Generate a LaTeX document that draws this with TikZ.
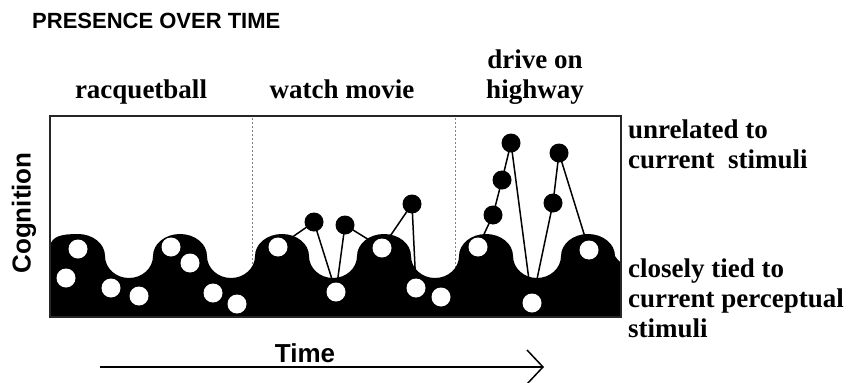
\documentclass[tikz,border=0pt]{standalone}
\usepackage{fontspec}
\setmainfont{Liberation Serif}
\setsansfont{Liberation Sans}
\begin{document}
\begin{tikzpicture}[x=1pt,y=-1pt,
  serlabel/.style={font=\fontsize{27}{30}\selectfont\bfseries, inner sep=0pt},
  sanlabel/.style={font=\sffamily\bfseries\fontsize{26}{30}\selectfont, inner sep=0pt},
  wdot/.style={circle, fill=white, minimum size=19pt, inner sep=0pt},
  bdot/.style={circle, fill=black, minimum size=19pt, inner sep=0pt},
  link/.style={line width=1.5pt, black},
  sep/.style={gray, line width=1pt, dash pattern=on 2pt off 2pt}]
\useasboundingbox (0,0) rectangle (852,383);

% title
\node[sanlabel, font=\sffamily\bfseries\fontsize{22}{26}\selectfont, anchor=base west] (title) at (32,28) {PRESENCE OVER TIME};

% activity headings
\node[serlabel, anchor=base] (act1) at (141,98) {racquetball};
\node[serlabel, anchor=base] (act2) at (342,98) {watch movie};
\node[serlabel, anchor=base] (act3a) at (535,68) {drive on};
\node[serlabel, anchor=base] (act3b) at (535,98) {highway};

% separators between activities
\draw[sep] (252,118) -- (252,300);
\draw[sep] (455,118) -- (455,300);

% perception band: humps and valleys
\fill[black] (50,317) -- (50,246)
  .. controls (52,236) and (62,234) .. (78,234)
  arc[start angle=270, end angle=360, x radius=27, y radius=22]
  arc[start angle=180, end angle=0, x radius=24, y radius=22]
  arc[start angle=180, end angle=360, x radius=27, y radius=22]
  arc[start angle=180, end angle=0, x radius=24, y radius=22]
  arc[start angle=180, end angle=360, x radius=27, y radius=22]
  arc[start angle=180, end angle=0, x radius=24, y radius=22]
  arc[start angle=180, end angle=360, x radius=27, y radius=22]
  arc[start angle=180, end angle=0, x radius=24, y radius=22]
  arc[start angle=180, end angle=360, x radius=27, y radius=22]
  arc[start angle=180, end angle=0, x radius=24, y radius=22]
  arc[start angle=180, end angle=360, x radius=27, y radius=22]
  .. controls (617,259) .. (621,263) -- (621,317) -- cycle;

% frame
\draw[line width=1.5pt, black!85] (50,116) rectangle (621,317);

% thoughts: white = perceptual, black = unrelated
\coordinate (pw1) at (78,249);   \coordinate (pw2) at (66,278);
\coordinate (pw3) at (111,288);  \coordinate (pw4) at (139,296);
\coordinate (pw5) at (171,247);  \coordinate (pw6) at (190,263);
\coordinate (pw7) at (213,293);  \coordinate (pw8) at (237,304);
\coordinate (pw9) at (278,247);  \coordinate (pw10) at (336,292);
\coordinate (pw11) at (382,248); \coordinate (pw12) at (416,288);
\coordinate (pw13) at (441,297); \coordinate (pw14) at (478,247);
\coordinate (pw15) at (532,303); \coordinate (pw16) at (589,250);

\coordinate (pb1) at (314,222); \coordinate (pb2) at (345,225);
\coordinate (pb3) at (412,204); \coordinate (pb4) at (493,215);
\coordinate (pb5) at (502,180); \coordinate (pb6) at (511,143);
\coordinate (pb7) at (553,203); \coordinate (pb8) at (559,153);

% chains of thought
\draw[link] (pw9) -- (pb1) -- (pw10) -- (pb2) -- (pw11) -- (pb3) -- (pw12);
\draw[link] (pw14) -- (pb4) -- (pb5) -- (pb6) -- (pw15) -- (pb7) -- (pb8) -- (pw16);

\foreach \i in {1,...,16} \node[wdot] (w\i) at (pw\i) {};
\foreach \i in {1,...,8} \node[bdot] (b\i) at (pb\i) {};

% right-hand labels
\node[serlabel, anchor=base west] (up1) at (628,138) {unrelated to};
\node[serlabel, anchor=base west] (up2) at (628,168) {current\ \ stimuli};
\node[serlabel, anchor=base west] (lo1) at (628,277) {closely tied to};
\node[serlabel, anchor=base west] (lo2) at (628,307) {current perceptual};
\node[serlabel, anchor=base west] (lo3) at (628,337) {stimuli};

% axis labels
\node[sanlabel, rotate=90] (cog) at (24,213) {Cognition};
\node[sanlabel, anchor=base] (time) at (305,362) {Time};

% time arrow with open head
\coordinate (t0) at (100,367);
\coordinate (t1) at (543,367);
\coordinate (h1) at (527,350);
\coordinate (h2) at (527,384);
\draw[line width=1.5pt] (t0) -- (t1);
\draw[line width=1.5pt] (h1) -- (t1) -- (h2);
\end{tikzpicture}
\end{document}
